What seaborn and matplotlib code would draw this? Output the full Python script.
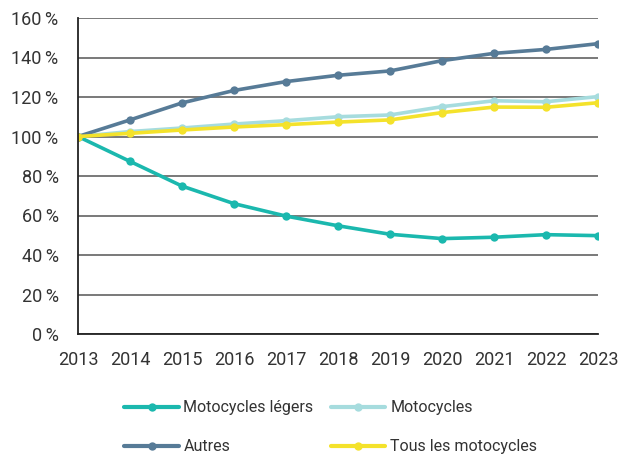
import matplotlib
matplotlib.use("Agg")
import matplotlib.pyplot as plt
import seaborn as sns
import pandas as pd
from matplotlib.lines import Line2D

years = [2013, 2014, 2015, 2016, 2017, 2018, 2019, 2020, 2021, 2022, 2023]
legers = [100, 87.4, 74.9, 66.0, 59.7, 54.8, 50.5, 48.3, 49.0, 50.3, 49.8]
motocycles = [100, 102.5, 104.3, 106.3, 108.0, 110.0, 110.9, 115.1, 118.1, 117.6, 120.2]
autres = [100, 108.4, 117.0, 123.3, 127.8, 131.0, 133.2, 138.4, 142.1, 144.1, 147.0]
tous = [100, 101.6, 103.3, 104.8, 106.0, 107.3, 108.4, 112.1, 114.9, 114.8, 117.1]

series_names = ["Motocycles légers", "Motocycles", "Autres", "Tous les motocycles"]
colors = ["#1BB8AE", "#A6DCDE", "#577B97", "#F4E22B"]
y_ticks = [0, 20, 40, 60, 80, 100, 120, 140, 160]

frames = []
for name, vals in zip(series_names, [legers, motocycles, autres, tous]):
    frames.append(pd.DataFrame({"Année": years, "Indice": vals, "Série": name}))
df = pd.concat(frames, ignore_index=True)

sns.set_style("white")
plt.rcParams["font.family"] = ["Roboto", "DejaVu Sans"]

fig = plt.figure(figsize=(6.21, 4.59), dpi=100)
ax = fig.add_axes([78 / 621, 1 - 334 / 459, 520 / 621, 316 / 459])

palette = dict(zip(series_names, colors))
sns.lineplot(data=df, x="Année", y="Indice", hue="Série", hue_order=series_names,
             palette=palette, marker="o", markersize=6, markeredgewidth=0,
             linewidth=2.6, ax=ax, legend=False)

ax.set_xlim(2013, 2023)
ax.set_ylim(0, 160)
ax.set_xticks(years)
ax.set_xticklabels([str(y) for y in years])
ax.set_yticks(y_ticks)
ax.set_yticklabels([f"{t}\u2009%" for t in y_ticks])
ax.set_xlabel("")
ax.set_ylabel("")

ax.grid(axis="y", color="#555555", linewidth=1.1)
ax.grid(axis="x", visible=False)
ax.set_axisbelow(True)
for side in ["top", "right"]:
    ax.spines[side].set_visible(False)
for side in ["left", "bottom"]:
    ax.spines[side].set_color("#222222")
    ax.spines[side].set_linewidth(1.3)
ax.tick_params(axis="both", direction="out", length=5, width=1.3, color="#222222",
               labelsize=13, labelcolor="#333333")
ax.tick_params(axis="y", pad=9)
ax.tick_params(axis="x", pad=7)

handles = [Line2D([0], [0], color=c, lw=3, marker="o", markersize=6, markeredgewidth=0)
           for c in colors]
order = [0, 2, 1, 3]
fig.legend([handles[i] for i in order], [series_names[i] for i in order],
           ncol=2, loc="upper left", bbox_to_anchor=(110 / 621, 1 - 386 / 459),
           frameon=False, fontsize=11.5, handlelength=3.4, handletextpad=0.3,
           columnspacing=1.1, labelspacing=1.5, labelcolor="#333333")

fig.savefig("out.png", dpi=100)
